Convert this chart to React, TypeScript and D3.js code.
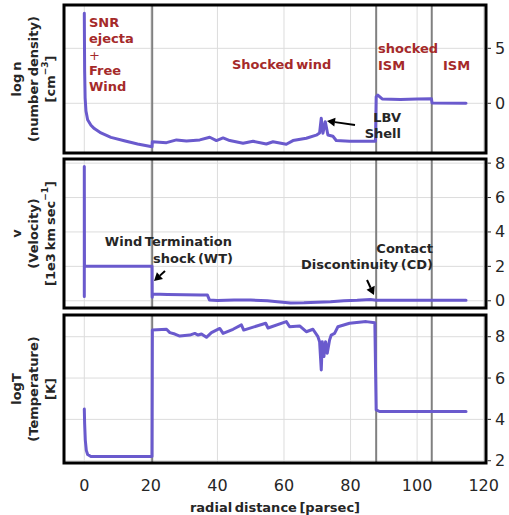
import React from "react";
import * as d3 from "d3";

// ---------- data ----------
const xTicks = [0, 20, 40, 60, 80, 100, 120];
const regionBounds = [20.4, 87.7, 104.4];

const densityR = [0, 0.1, 0.25, 0.5, 1, 2, 3, 5, 8, 12, 16, 20.35, 20.45, 24.7, 27.7, 30.7, 34.7, 37.7, 39.7, 41.7, 43.7, 47.7, 50.7, 54.7, 56.7, 60.7, 62.7, 66.7, 69.7, 70.7, 71.2, 71.7, 72.4, 73.2, 74.7, 75.7, 79.7, 87.5, 87.7, 88.2, 89.5, 95, 100, 104.3, 104.5, 114.7];
const densityV = [8.2, 3.0, 0.5, -0.7, -1.5, -2.0, -2.3, -2.7, -3.1, -3.4, -3.7, -3.95, -3.49, -3.58, -3.33, -3.42, -3.33, -3.09, -3.39, -3.15, -3.39, -3.64, -3.45, -3.7, -3.5, -3.73, -3.39, -3.18, -2.9, -2.7, -1.36, -2.73, -1.67, -2.88, -3.0, -3.38, -3.45, -3.45, 0.6, 0.75, 0.4, 0.35, 0.38, 0.42, 0.02, 0.0];
const densityTicks = [0, 5];

const velocityR = [0, 0, 0.05, 20.35, 20.4, 20.5, 25, 30, 35, 37, 37.6, 40, 45, 50, 55, 58, 62, 66, 70, 74, 78, 82, 86, 87.7, 95, 104.4, 114.7];
const velocityV = [0.25, 7.8, 2.0, 2.0, 0.2, 0.4, 0.37, 0.35, 0.33, 0.33, 0.05, 0.02, 0.04, 0.04, 0.0, -0.05, -0.13, -0.12, -0.08, -0.05, 0.0, 0.03, 0.08, 0.03, 0.03, 0.03, 0.03];
const velocityTicks = [0, 2, 4, 6, 8];

const tempR = [0, 0.1, 0.3, 0.6, 1.0, 2, 20.35, 20.45, 24.7, 25.7, 27.2, 28.7, 31.7, 33.2, 34.2, 35.2, 36.7, 38.2, 40.7, 41.7, 44.7, 47.2, 47.9, 54.5, 55.2, 60.7, 61.7, 64.7, 66.7, 68.7, 70.2, 70.7, 71.2, 71.5, 72.0, 72.5, 73.0, 73.7, 74.2, 75.2, 76.2, 79.7, 84.7, 87.3, 87.7, 88.7, 114.7];
const tempV = [4.5, 3.8, 3.0, 2.5, 2.3, 2.2, 2.2, 8.32, 8.36, 8.2, 8.13, 8.03, 8.08, 8.16, 8.08, 8.13, 7.97, 8.2, 8.4, 8.16, 8.36, 8.57, 8.32, 8.65, 8.42, 8.73, 8.48, 8.52, 8.24, 8.36, 8.0, 7.76, 6.39, 7.76, 7.04, 7.76, 7.2, 7.84, 8.08, 8.16, 8.48, 8.65, 8.73, 8.68, 4.46, 4.38, 4.38];
const tempTicks = [2, 4, 6, 8];

// ---------- layout ----------
const W = 509, H = 515;
const left = 64, right = 486;
const FONT = "DejaVu Sans";
const LINE = "#6a5acd";
const BROWN = "#a52a2a";
const TXT = "#262626";

const x = d3.scaleLinear().domain([-6.1, 120.7]).range([left, right]);

type Panel = {
  id: string; top: number; bottom: number; domain: [number, number];
  r: number[]; v: number[]; ticks: number[]; label: React.ReactNode[];
};

const panels: Panel[] = [
  { id: "p1", top: 5, bottom: 153, domain: [-4.52, 8.94], r: densityR, v: densityV, ticks: densityTicks,
    label: ["log n", "(number density)", <>[cm<tspan baseline-shift="super" fontSize={9}>−3</tspan>]</>] },
  { id: "p2", top: 159, bottom: 308, domain: [-0.42, 8.24], r: velocityR, v: velocityV, ticks: velocityTicks,
    label: ["v", "(Velocity)", <>[1e3 km sec<tspan baseline-shift="super" fontSize={9}>−1</tspan>]</>] },
  { id: "p3", top: 315, bottom: 463, domain: [1.89, 9.05], r: tempR, v: tempV, ticks: tempTicks,
    label: ["logT", "(Temperature)", "[K]"] },
];

const labelX = [16, 33, 50];

function Arrow({ x1, y1, x2, y2 }: { x1: number; y1: number; x2: number; y2: number }) {
  const ang = Math.atan2(y2 - y1, x2 - x1);
  const hl = 8, hw = 4.5;
  const bx = x2 - hl * Math.cos(ang), by = y2 - hl * Math.sin(ang);
  const px = -Math.sin(ang) * hw, py = Math.cos(ang) * hw;
  return (
    <g>
      <line x1={x1} y1={y1} x2={bx} y2={by} stroke="#000" strokeWidth={2} />
      <polygon points={`${x2},${y2} ${bx + px},${by + py} ${bx - px},${by - py}`} fill="#000" />
    </g>
  );
}

export default function App() {
  return (
    <svg width={W} height={H} style={{ position: "absolute", left: 0, top: 0, background: "#fff" }}
      fontFamily={FONT}>
      <defs>
        {panels.map((p) => (
          <clipPath id={`clip-${p.id}`} key={p.id}>
            <rect x={left} y={p.top} width={right - left} height={p.bottom - p.top} />
          </clipPath>
        ))}
      </defs>
      {panels.map((p) => {
        const y = d3.scaleLinear().domain(p.domain).range([p.bottom, p.top]);
        const pts = p.r.map((r, i) => [r, p.v[i]] as [number, number]);
        const path = d3.line<[number, number]>().x((d) => x(d[0])).y((d) => y(d[1]))(pts) || "";
        const cy = (p.top + p.bottom) / 2;
        return (
          <g key={p.id}>
            <rect x={left} y={p.top} width={right - left} height={p.bottom - p.top} fill="#fff" />
            <g clipPath={`url(#clip-${p.id})`}>
              {xTicks.map((t) => (
                <line key={"gx" + t} x1={x(t)} x2={x(t)} y1={p.top} y2={p.bottom} stroke="#dcdcdc" strokeWidth={1} />
              ))}
              {p.ticks.map((t) => (
                <line key={"gy" + t} x1={left} x2={right} y1={y(t)} y2={y(t)} stroke="#dcdcdc" strokeWidth={1} />
              ))}
              {regionBounds.map((b) => (
                <line key={"rb" + b} x1={x(b)} x2={x(b)} y1={p.top} y2={p.bottom} stroke="#808080" strokeWidth={2} />
              ))}
              <path d={path} fill="none" stroke={LINE} strokeWidth={3} strokeLinejoin="round" strokeLinecap="round" />
            </g>
            <rect x={left} y={p.top} width={right - left} height={p.bottom - p.top} fill="none" stroke="#000" strokeWidth={3} />
            {p.ticks.map((t) => (
              <g key={"ty" + t}>
                <line x1={right + 1.5} x2={right + 5} y1={y(t)} y2={y(t)} stroke={TXT} strokeWidth={1} />
                <text x={495} y={y(t)} dominantBaseline="central" fontSize={16} fill={TXT}>{t}</text>
              </g>
            ))}
            {p.label.map((l, i) => (
              <text key={"lb" + i} transform={`translate(${labelX[i]},${cy}) rotate(-90)`} textAnchor="middle"
                dominantBaseline="central" fontSize={13} fontWeight="bold" fill={TXT} wordSpacing={-1.5}>{l}</text>
            ))}
          </g>
        );
      })}
      {/* x tick labels */}
      {xTicks.map((t) => (
        <text key={"xt" + t} x={x(t)} y={485} textAnchor="middle" dominantBaseline="central" fontSize={16} fill={TXT}>{t}</text>
      ))}
      <text x={275} y={507} textAnchor="middle" dominantBaseline="central" fontSize={13} fontWeight="bold" fill={TXT} wordSpacing={-2}>
        radial distance [parsec]
      </text>

      {/* region annotations */}
      <g fontSize={13} fontWeight="bold" fill={BROWN} dominantBaseline="central" wordSpacing={-2}>
        <text x={89} y={22.7}>SNR</text>
        <text x={89} y={38.3}>ejecta</text>
        <text x={89} y={55} fontWeight="normal">+</text>
        <text x={89} y={70.7}>Free</text>
        <text x={89} y={86}>Wind</text>
        <text x={232} y={64}>Shocked wind</text>
        <text x={378} y={48}>shocked</text>
        <text x={378} y={65}>ISM</text>
        <text x={443} y={65}>ISM</text>
      </g>
      <g fontSize={13} fontWeight="bold" fill={TXT} dominantBaseline="central" textAnchor="end" wordSpacing={-2}>
        <text x={401} y={117}>LBV</text>
        <text x={401} y={133}>Shell</text>
        <text x={232} y={241}>Wind Termination</text>
        <text x={233} y={258}>shock (WT)</text>
        <text x={433} y={248}>Contact</text>
        <text x={433} y={264}>Discontinuity (CD)</text>
      </g>
      <Arrow x1={355} y1={125} x2={327} y2={121} />
      <Arrow x1={165} y1={271} x2={154} y2={281} />
      <Arrow x1={367} y1={280} x2={374} y2={295} />
    </svg>
  );
}
